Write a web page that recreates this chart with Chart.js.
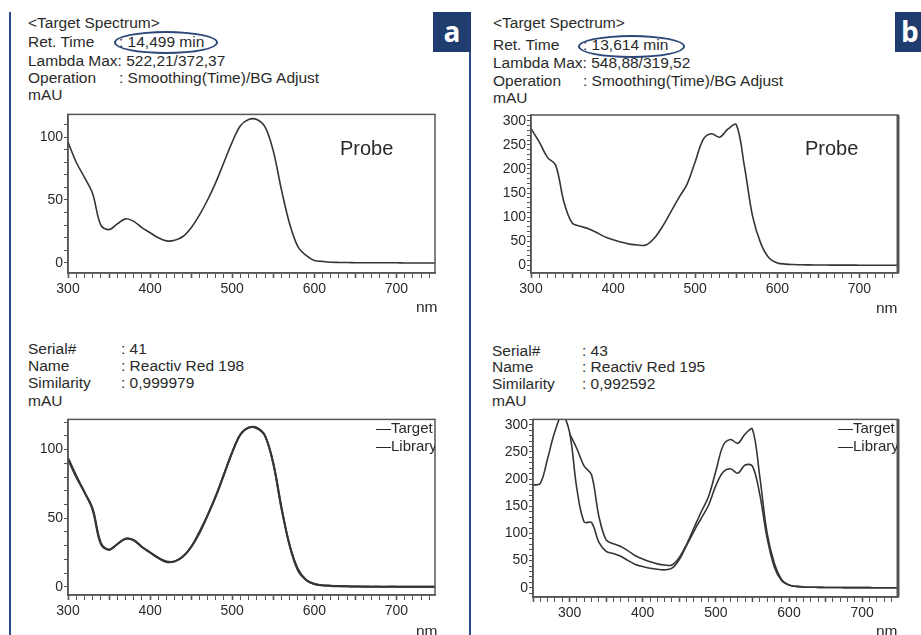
<!DOCTYPE html>
<html>
<head>
<meta charset="utf-8">
<script src="https://cdn.jsdelivr.net/npm/chart.js@4.4.1/dist/chart.umd.min.js"></script>
<style>
  html, body { margin: 0; padding: 0; background: #fff; }
  #page { position: relative; width: 921px; height: 635px; overflow: hidden; font-family: "Liberation Sans", Arial, sans-serif; color: #2a2a2a; }
  .box { position: absolute; }
  .t { position: absolute; font-size: 15.5px; line-height: 16px; white-space: nowrap; }
  .probe { position: absolute; font-size: 20px; line-height: 24px; color: #2a2a2a; }
  .ell { position: absolute; border: 2px solid #2b4677; border-radius: 50%; }
  .tag { position: absolute; background: #1f3d6e; color: #fff; font: bold 28px "Open Sans", "Liberation Sans", sans-serif; text-align: center; line-height: 38px; }
  .vline { position: absolute; width: 2px; background: #2a4d8f; }
  .leg { position: absolute; overflow: hidden; font-size: 15px; line-height: 18px; white-space: nowrap; }
</style>
</head>
<body>
<div id="page">
  <div class="vline" style="left:9px; top:12px; height:623px;"></div>
  <div class="vline" style="left:469px; top:50px; height:585px;"></div>
  <div class="tag" style="left:433px; top:12px; width:38px; height:40px;">a</div>
  <div class="tag" style="left:895px; top:12px; width:38px; height:40px; text-align:left; padding-left:6px;">b</div>

  <!-- panel a header -->
  <div class="t" style="left:28px; top:15px;">&lt;Target Spectrum&gt;</div>
  <div class="t" style="left:28px; top:34px;">Ret. Time</div>
  <div class="t" style="left:119px; top:34px;">: 14,499 min</div>
  <div class="t" style="left:28px; top:53px;">Lambda Max: 522,21/372,37</div>
  <div class="t" style="left:28px; top:70px;">Operation</div>
  <div class="t" style="left:119px; top:70px;">: Smoothing(Time)/BG Adjust</div>
  <div class="t" style="left:28px; top:87px;">mAU</div>
  <div class="ell" style="left:114px; top:31px; width:100px; height:19px;"></div>

  <!-- panel b header -->
  <div class="t" style="left:493px; top:15px;">&lt;Target Spectrum&gt;</div>
  <div class="t" style="left:493px; top:37px;">Ret. Time</div>
  <div class="t" style="left:583px; top:37px;">: 13,614 min</div>
  <div class="t" style="left:493px; top:55px;">Lambda Max: 548,88/319,52</div>
  <div class="t" style="left:493px; top:73px;">Operation</div>
  <div class="t" style="left:583px; top:73px;">: Smoothing(Time)/BG Adjust</div>
  <div class="t" style="left:493px; top:90px;">mAU</div>
  <div class="ell" style="left:578px; top:35px; width:103px; height:19px;"></div>

  <!-- bottom headers -->
  <div class="t" style="left:28px; top:341px;">Serial#</div>
  <div class="t" style="left:121px; top:341px;">: 41</div>
  <div class="t" style="left:28px; top:358px;">Name</div>
  <div class="t" style="left:121px; top:358px;">: Reactiv Red 198</div>
  <div class="t" style="left:28px; top:375px;">Similarity</div>
  <div class="t" style="left:121px; top:375px;">: 0,999979</div>
  <div class="t" style="left:28px; top:393px;">mAU</div>

  <div class="t" style="left:492px; top:343px;">Serial#</div>
  <div class="t" style="left:582px; top:343px;">: 43</div>
  <div class="t" style="left:492px; top:359px;">Name</div>
  <div class="t" style="left:582px; top:359px;">: Reactiv Red 195</div>
  <div class="t" style="left:492px; top:376px;">Similarity</div>
  <div class="t" style="left:582px; top:376px;">: 0,992592</div>
  <div class="t" style="left:492px; top:393px;">mAU</div>

  <div class="box" style="left:18px; top:105px;"><canvas id="chart-a-top" width="422" height="195"></canvas></div>
  <div class="box" style="left:481px; top:105px;"><canvas id="chart-b-top" width="421" height="195"></canvas></div>
  <div class="box" style="left:18px; top:410px;"><canvas id="chart-a-bot" width="422" height="215"></canvas></div>
  <div class="box" style="left:483px; top:410px;"><canvas id="chart-b-bot" width="419" height="215"></canvas></div>

  <div class="probe" style="left:340px; top:136px;">Probe</div>
  <div class="probe" style="left:805px; top:136px;">Probe</div>

  <div class="t" style="left:416px; top:299px;">nm</div>
  <div class="t" style="left:876px; top:300px;">nm</div>
  <div class="t" style="left:416px; top:623px;">nm</div>
  <div class="t" style="left:876px; top:623px;">nm</div>

  <div class="leg" style="left:376px; top:419px; width:59px;">—Target<br>—Library</div>
  <div class="leg" style="left:838px; top:419px; width:59px;">—Target<br>—Library</div>
</div>

<script>
// wavelengths (nm)
const wl300 = [300,310,320,330,340,350,360,370,380,390,400,410,420,430,440,450,460,470,480,490,
  500,510,520,530,540,550,560,570,580,590,600,610,620,630,640,650,660,670,680,690,700,710,720,730,740,750];
const wl250 = [250,260,270,280,290].concat(wl300);

// a: probe spectrum (14,499 min)
const probeA = [96,80,68,55,30,26.5,31,35,33,28,24,20,17.5,18,21,28,38,50,64,80,
  96,109,114,114,108,89,58,31,13,6,2,1.2,0.6,0.4,0.3,0.2,0.2,0.1,0.1,0.1,0.1,0,0,0,0,0];
// a: target vs library (Reactiv Red 198)
const targetA = [93,80,69,57,32,27,31,35,34,29,25,21,18.5,18.5,22,29,39,52,66,82,
  98,111,116,116,110,90,58,30,13,5,2,1.2,0.8,0.5,0.3,0.2,0.2,0.1,0.1,0.1,0.1,0,0,0,0,0];
const libraryA = [94,81,69,56,31,27,31,35,34,29,25,21,18,18.5,22,29,40,52,66,82,
  98,111,116,115.5,110,90,57,30,12,5,2,1,0.6,0.4,0.3,0.2,0.1,0.1,0.1,0,0,0,0,0,0,0];

// b: probe spectrum (13,614 min), also the target below
const probeB = [284,256,224,208,132,88,81,76,68,59,53,48,44,42,42,56,80,110,140,168,
  215,262,273,266,283,292,205,101,45,15,5,2.5,1.5,1,0.8,0.6,0.5,0.4,0.3,0.3,0.2,0.2,0.1,0.1,0.1,0.1];
// b: library (Reactiv Red 195)
const libraryB = [189,192,238,288,318,286,182,121,120,84,67,63,58,50,43,39,36,34,33,36,52,78,104,128,152,
  188,213,219,211,226,224,172,92,38,13,5,2.5,1.5,1,0.8,0.6,0.5,0.4,0.3,0.3,0.2,0.2,0.1,0.1,0.1,0.1];

function pts(xs, ys) {
  return ys.map((y, i) => ({x: xs[i], y: y}));
}

function line(xs, ys, w) {
  return {
    data: pts(xs, ys),
    borderColor: '#353535',
    borderWidth: w,
    pointRadius: 0,
    tension: 0.35,
    clip: 0
  };
}

// draws the closed box around the plot area
const frame = {
  id: 'frame',
  afterDraw(chart, args, opts) {
    const a = chart.chartArea;
    const ctx = chart.ctx;
    ctx.save();
    ctx.strokeStyle = '#555';
    ctx.lineWidth = 1.5;
    ctx.strokeRect(a.left, a.top, a.right - a.left, a.bottom - a.top);
    if (opts.thickRight) {
      ctx.lineWidth = 3;
      ctx.beginPath();
      ctx.moveTo(a.right, a.top);
      ctx.lineTo(a.right, a.bottom);
      ctx.stroke();
    }
    ctx.restore();
  }
};

function makeChart(id, datasets, o) {
  new Chart(document.getElementById(id), {
    type: 'line',
    data: {datasets: datasets},
    plugins: [frame],
    options: {
      responsive: false,
      animation: false,
      devicePixelRatio: 1,
      layout: {padding: {top: o.padTop, right: o.padRight, left: 0, bottom: 0}},
      plugins: {
        legend: {display: false},
        tooltip: {enabled: false},
        frame: {thickRight: o.thickRight}
      },
      scales: {
        x: {
          type: 'linear',
          min: o.xMin,
          max: o.xMax,
          grid: {drawOnChartArea: false, tickLength: 5, color: '#555',
            tickWidth: c => (c.tick && c.tick.value % 50 === 0 ? 1.6 : 1)},
          border: {color: '#555', width: 1.5},
          ticks: {stepSize: 10, autoSkip: false, maxRotation: 0, includeBounds: false,
            padding: 3, color: '#2a2a2a', font: {family: 'Liberation Sans', size: 14},
            callback: v => (v % 100 === 0 ? String(v) : '')},
          afterFit: s => { s.height = o.xHeight; }
        },
        y: {
          min: o.yMin,
          max: o.yMax,
          grid: {drawOnChartArea: false, tickLength: 4, color: '#555'},
          border: {color: '#555', width: 1.5},
          ticks: {stepSize: 10, autoSkip: false, includeBounds: false,
            padding: 1, color: '#2a2a2a', font: {family: 'Liberation Sans', size: 14},
            callback: v => (v % 50 === 0 ? String(v) : '')},
          afterFit: s => { s.width = o.yWidth; }
        }
      }
    }
  });
}

makeChart('chart-a-top', [line(wl300, probeA, 1.6)],
  {xMin: 300, xMax: 747, yMin: -8, yMax: 118, padTop: 8, padRight: 5, yWidth: 50, xHeight: 27});

makeChart('chart-b-top', [line(wl300, probeB, 1.6)],
  {xMin: 300, xMax: 747, yMin: -16, yMax: 312, padTop: 10, padRight: 4, yWidth: 50, xHeight: 27, thickRight: true});

makeChart('chart-a-bot', [line(wl300, targetA, 2), line(wl300, libraryA, 2)],
  {xMin: 300, xMax: 747, yMin: -6, yMax: 122, padTop: 8, padRight: 5, yWidth: 50, xHeight: 30});

makeChart('chart-b-bot', [line(wl300, probeB, 1.6), line(wl250, libraryB, 1.6)],
  {xMin: 250, xMax: 749, yMin: -17, yMax: 310, padTop: 9, padRight: 4, yWidth: 50, xHeight: 28, thickRight: true});
</script>
</body>
</html>
